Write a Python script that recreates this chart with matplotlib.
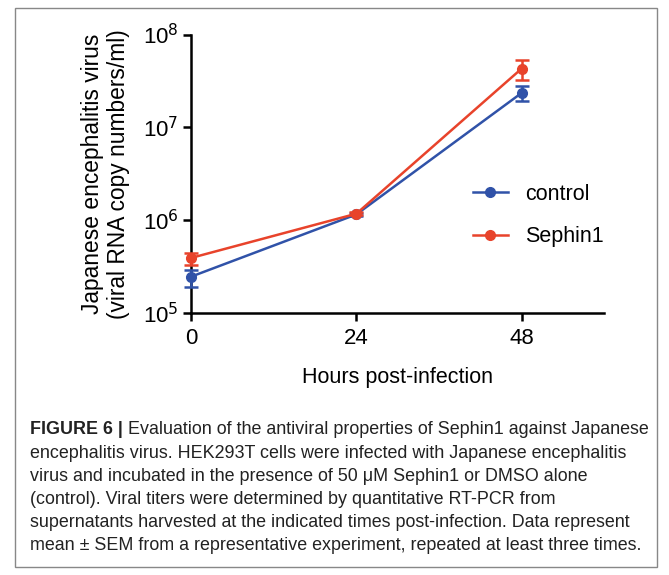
import matplotlib
matplotlib.use("Agg")
from matplotlib import pyplot as plt
from matplotlib.patches import Rectangle

plt.rcParams["font.family"] = ["Liberation Sans", "DejaVu Sans"]

hours = [0, 24, 48]
control = [2.45e5, 1.15e6, 2.35e7]
control_err_lo = [0.55e5, 0.05e6, 0.45e7]
control_err_hi = [0.45e5, 0.05e6, 0.45e7]
sephin = [3.9e5, 1.17e6, 4.3e7]
sephin_err_lo = [0.6e5, 0.05e6, 1.1e7]
sephin_err_hi = [0.5e5, 0.05e6, 1.0e7]

blue = "#3052A8"
red = "#E8432B"

caption_bold = "FIGURE 6 |"
caption_lines = [
    " Evaluation of the antiviral properties of Sephin1 against Japanese",
    "encephalitis virus. HEK293T cells were infected with Japanese encephalitis",
    "virus and incubated in the presence of 50 \u03bcM Sephin1 or DMSO alone",
    "(control). Viral titers were determined by quantitative RT-PCR from",
    "supernatants harvested at the indicated times post-infection. Data represent",
    "mean \u00b1 SEM from a representative experiment, repeated at least three times.",
]

fig = plt.figure(figsize=(6.69, 5.75), dpi=100)
ax = fig.add_axes([0.2855, 0.456, 0.618, 0.484])

for ys, lo, hi, c, name, z in [(control, control_err_lo, control_err_hi, blue, "control", 3),
                               (sephin, sephin_err_lo, sephin_err_hi, red, "Sephin1", 4)]:
    ax.errorbar(hours, ys, yerr=[lo, hi], color=c, fmt="none", capsize=5,
                capthick=1.8, elinewidth=1.8, clip_on=False, zorder=z)
    ax.plot(hours, ys, color=c, marker="o", markersize=7, linewidth=1.8,
            label=name, clip_on=False, zorder=z)

ax.set_yscale("log")
ax.set_ylim(1e5, 1e8)
ax.set_xlim(0, 60)
ax.set_xticks(hours)
ax.set_yticks([1e5, 1e6, 1e7, 1e8])
ax.set_yticklabels(["10$^5$", "10$^6$", "10$^7$", "10$^8$"])
ax.minorticks_off()
ax.tick_params(labelsize=16, width=1.8, length=6)
ax.tick_params(axis="x", pad=5)
ax.tick_params(axis="y", pad=3)

for s in ["top", "right"]:
    ax.spines[s].set_visible(False)
for s in ["left", "bottom"]:
    ax.spines[s].set_linewidth(1.8)

ax.set_xlabel("Hours post-infection", fontsize=15.5, labelpad=13)
ax.set_ylabel("Japanese encephalitis virus\n(viral RNA copy numbers/ml)",
              fontsize=16.4, labelpad=9, linespacing=1.15)

ax.legend(loc="center", bbox_to_anchor=(0.84, 0.35), frameon=False,
          fontsize=15.5, handlelength=1.6, labelspacing=1.0)

# caption
fig.patches.append(Rectangle((15 / 669, 8 / 575), 642 / 669, 559 / 575,
                             transform=fig.transFigure, fill=False,
                             edgecolor="#888888", linewidth=1.0))

x0 = 30 / 669
y0 = 1 - 430 / 575
dy = 23.2 / 575
fs = 12.9
tb = fig.text(x0, y0, caption_bold, fontsize=fs, fontweight="bold",
              va="center", color="#222222")
fig.canvas.draw()
bb = tb.get_window_extent().transformed(fig.transFigure.inverted())
fig.text(bb.x1, y0, caption_lines[0], fontsize=fs, va="center",
         color="#222222")
for i, line in enumerate(caption_lines[1:], start=1):
    fig.text(x0, y0 - i * dy, line, fontsize=fs, va="center",
             color="#222222")

fig.savefig("out.png", dpi=100)
